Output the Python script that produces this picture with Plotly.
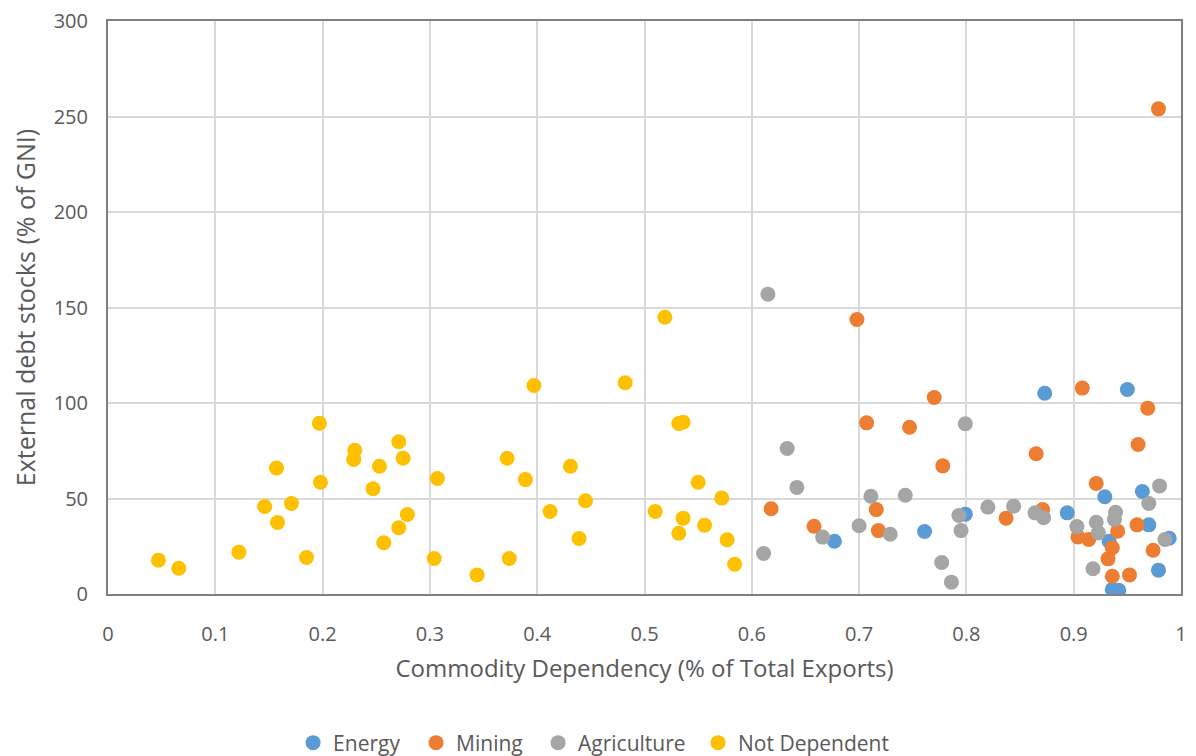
import plotly.graph_objects as go

# Energy
energy_x = [0.677, 0.761, 0.799, 0.873, 0.950, 0.894, 0.929, 0.964, 0.970, 0.989, 0.979, 0.933, 0.936, 0.942]
energy_y = [27.6, 32.7, 41.8, 105.1, 107.1, 42.5, 50.9, 53.7, 36.2, 29.2, 12.5, 27.6, 2.4, 2.0]

# Mining
mining_x = [0.618, 0.658, 0.698, 0.707, 0.716, 0.718, 0.747, 0.770, 0.778, 0.837, 0.865, 0.871,
            0.904, 0.908, 0.914, 0.921, 0.932, 0.936, 0.936, 0.941, 0.952, 0.959, 0.960, 0.969,
            0.974, 0.979]
mining_y = [44.6, 35.5, 143.7, 89.6, 44.2, 33.2, 87.3, 102.9, 67.1, 39.7, 73.4, 44.2,
            29.9, 107.8, 28.5, 57.9, 18.4, 24.2, 9.3, 32.9, 10.0, 36.2, 78.3, 97.3,
            22.9, 254.0]

# Agriculture
agri_x = [0.611, 0.615, 0.633, 0.642, 0.666, 0.700, 0.711, 0.729, 0.743, 0.777, 0.786, 0.793,
          0.795, 0.799, 0.820, 0.844, 0.864, 0.872, 0.903, 0.918, 0.921, 0.923, 0.938, 0.939,
          0.970, 0.980, 0.985]
agri_y = [21.2, 157.0, 76.2, 55.8, 29.8, 35.7, 51.2, 31.3, 51.7, 16.5, 6.2, 41.1,
          33.2, 89.1, 45.5, 46.0, 42.5, 39.9, 35.3, 13.2, 37.6, 32.0, 39.0, 42.8,
          47.4, 56.6, 28.5]

# Not Dependent
notdep_x = [0.047, 0.066, 0.122, 0.146, 0.157, 0.158, 0.171, 0.185, 0.197, 0.198, 0.229, 0.230,
            0.247, 0.253, 0.257, 0.271, 0.271, 0.275, 0.279, 0.304, 0.307, 0.344, 0.372, 0.374,
            0.389, 0.397, 0.412, 0.431, 0.439, 0.445, 0.482, 0.510, 0.519, 0.532, 0.532, 0.536,
            0.536, 0.550, 0.556, 0.572, 0.577, 0.584]
notdep_y = [17.7, 13.5, 21.9, 45.8, 66.0, 37.4, 47.4, 19.1, 89.4, 58.5, 70.4, 75.3,
            55.1, 66.9, 26.8, 34.7, 79.7, 71.1, 41.6, 18.6, 60.5, 10.0, 71.1, 18.6,
            59.9, 109.2, 43.2, 66.9, 29.1, 48.8, 110.6, 43.2, 144.9, 89.3, 31.8, 89.9,
            39.7, 58.5, 36.0, 50.2, 28.4, 15.6]

x_ticks = [0, 0.1, 0.2, 0.3, 0.4, 0.5, 0.6, 0.7, 0.8, 0.9, 1]
x_tick_labels = ["0", "0.1", "0.2", "0.3", "0.4", "0.5", "0.6", "0.7", "0.8", "0.9", "1"]
y_ticks = [0, 50, 100, 150, 200, 250, 300]

series = [
    ("Energy", energy_x, energy_y, "#5B9BD5"),
    ("Mining", mining_x, mining_y, "#ED7D31"),
    ("Agriculture", agri_x, agri_y, "#A5A5A5"),
    ("Not Dependent", notdep_x, notdep_y, "#FFC000"),
]

FONT = "Open Sans"
GRAY = "#595959"

# legend entry anchors (paper x of each legend box's left edge)
legend_ids = ["legend", "legend2", "legend3", "legend4"]
legend_xs = [0.1725, 0.2871, 0.4008, 0.5499]

fig = go.Figure()
for (name, xs, ys, col), lid in zip(series, legend_ids):
    fig.add_trace(go.Scatter(
        x=xs, y=ys, mode="markers", name=name, legend=lid,
        marker=dict(color=col, size=15, line=dict(width=0)),
    ))

legend_style = dict(
    orientation="h", xanchor="left", y=-0.26, yanchor="middle",
    font=dict(family=FONT, size=21, color=GRAY),
    bgcolor="rgba(0,0,0,0)", borderwidth=0,
)

fig.update_layout(
    width=1188, height=748,
    margin=dict(l=100, r=15, t=13, b=162, autoexpand=False),
    paper_bgcolor="white", plot_bgcolor="white",
    font=dict(family=FONT, color=GRAY, size=20),
    showlegend=True,
    xaxis=dict(
        range=[0, 1], tickvals=x_ticks, ticktext=x_tick_labels,
        showgrid=True, gridcolor="#D9D9D9", gridwidth=2,
        showline=True, linecolor="#808080", linewidth=2, mirror=True,
        zeroline=False, ticks="", automargin=False, ticklabelstandoff=21,
        ticklabeloverflow="allow",
        tickfont=dict(family=FONT, size=20, color=GRAY),
        title=dict(text="Commodity Dependency (% of Total Exports)",
                   font=dict(family=FONT, size=24, color=GRAY), standoff=14),
    ),
    yaxis=dict(
        range=[0, 300], tickvals=y_ticks,
        showgrid=True, gridcolor="#D9D9D9", gridwidth=2,
        showline=True, linecolor="#808080", linewidth=2, mirror=True,
        zeroline=False, ticks="", automargin=False, ticklabelstandoff=14,
        ticklabeloverflow="allow",
        tickfont=dict(family=FONT, size=20, color=GRAY),
        title=dict(text="External debt stocks (% of GNI)",
                   font=dict(family=FONT, size=25, color=GRAY), standoff=26),
    ),
)
for lid, lx in zip(legend_ids, legend_xs):
    fig.update_layout({lid: dict(legend_style, x=lx)})

fig.write_html("out.html")
